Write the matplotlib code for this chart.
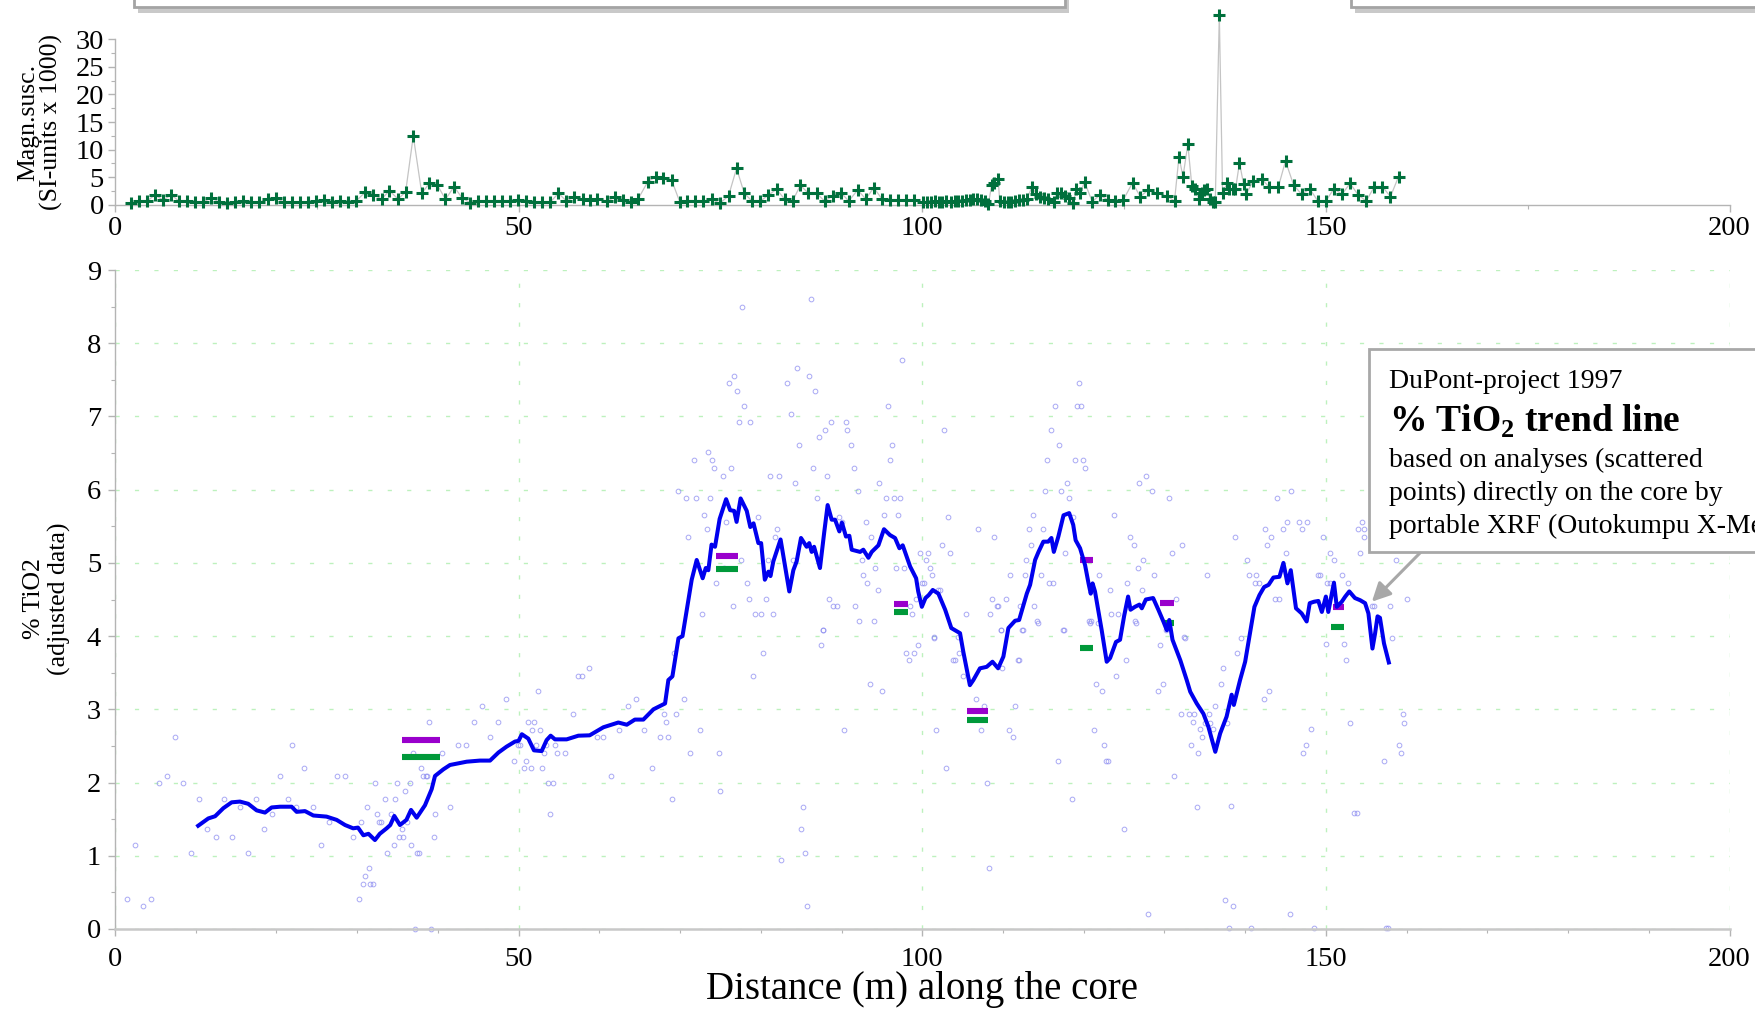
import matplotlib
matplotlib.use("Agg")
import matplotlib.pyplot as plt
from matplotlib.patches import Rectangle
from matplotlib.ticker import MultipleLocator
import matplotlib.patheffects as pe

plt.rcParams['font.family'] = ['Liberation Serif', 'DejaVu Serif']
plt.rcParams['mathtext.fontset'] = 'custom'
plt.rcParams['mathtext.rm'] = 'Liberation Serif'
plt.rcParams['mathtext.bf'] = 'Liberation Serif:bold'

# ---------------- data ----------------
# magnetic susceptibility (distance m, SI-units x 1000)
magsus = [(1.97,0.25),(2.92,0.67),(3.96,0.67),(4.96,1.76),(5.95,0.85),(6.95,1.76),(7.94,0.67),(8.94,0.67),
          (9.93,0.48),(10.93,0.48),(11.92,1.27),(12.92,0.48),(13.92,0.25),(14.9,0.48),(15.9,0.67),(16.9,0.48),
          (17.9,0.48),(18.9,1.03),(19.9,1.27),(20.9,0.48),(21.88,0.48),(22.88,0.48),(23.87,0.48),(24.87,0.67),
          (25.86,0.85),(26.86,0.48),(27.86,0.67),(28.85,0.48),(29.85,0.67),(31.03,2.3),(31.98,1.8),(33.02,1.03),
          (34.0,2.54),(35.06,1.03),(36.0,2.3),(36.95,12.47),(38.0,2.07),(38.95,3.88),(39.95,3.52),(40.94,0.97),
          (42.0,3.28),(42.97,1.27),(43.97,0.36),(44.97,0.67),(45.96,0.67),(46.96,0.67),(47.95,0.67),(48.95,0.67),
          (49.95,0.85),(50.94,0.67),(51.94,0.48),(52.94,0.48),(53.93,0.48),(54.93,2.07),(55.92,0.67),(56.92,1.46),
          (57.92,1.03),(58.9,0.85),(59.7,1.03),(61.0,0.67),(62.0,1.46),(62.95,0.85),(63.9,0.48),(64.8,1.03),
          (66.0,4.18),(67.0,5.08),(67.9,4.78),(68.95,4.48),(69.95,0.55),(70.9,0.67),(71.9,0.67),(72.9,0.67),
          (73.9,1.03),(74.9,0.25),(76.0,1.58),(77.0,6.6),(77.95,2.07),(78.9,0.67),(79.95,0.67),(80.95,1.76),
          (81.95,2.79),(82.94,1.03),(83.94,0.67),(84.9,3.52),(85.9,2.07),(86.9,2.07),(87.9,0.67),(88.9,1.58),
          (89.9,2.2),(90.9,0.67),(92.0,2.67),(93.0,1.03),(94.0,3.1),(95.0,1.03),(96.0,0.85),(97.0,0.85),
          (98.0,0.85),(99.0,0.85),(100.15,0.42),(100.6,0.55),(101.1,0.55),(101.6,0.67),(102.05,0.55),(102.5,0.55),
          (103.0,0.67),(103.5,0.55),(104.0,0.67),(104.4,0.67),(104.9,0.67),(105.4,0.85),(105.9,0.85),(106.3,0.97),
          (106.8,0.97),(107.3,0.85),(107.8,0.67),(108.2,0.12),(108.6,3.58),(108.9,4.0),(109.4,4.6),(109.6,0.67),
          (110.1,0.55),(110.6,0.55),(111.05,0.55),(111.5,0.67),(112.0,0.85),(112.5,0.85),(112.95,0.97),(113.6,3.28),
          (114.15,1.88),(114.6,1.33),(115.1,1.15),(115.55,0.97),(116.3,0.55),(116.7,2.2),(117.2,2.07),(117.7,1.64),
          (118.2,1.15),(118.65,0.25),(119.1,2.79),(119.6,2.07),(120.1,4.18),(121.05,0.55),(122.0,1.76),(123.0,0.85),
          (123.9,0.67),(124.9,0.85),(126.05,4.0),(127.0,1.46),(128.0,2.67),(129.1,2.07),(130.3,1.58),(131.25,0.67),
          (131.8,8.7),(132.3,5.08),(132.9,10.96),(133.4,3.34),(133.8,2.91),(134.3,0.97),(134.7,2.07),(134.9,2.67),
          (135.3,2.91),(135.6,0.97),(136.0,0.55),(136.3,0.55),(136.8,34.4),(137.2,2.2),(137.8,3.88),(138.0,2.79),
          (138.5,2.79),(138.8,2.79),(139.3,7.62),(139.8,3.76),(140.1,1.88),(141.0,4.3),(142.1,4.6),(143.0,3.16),
          (144.1,3.16),(145.0,7.93),(146.0,3.58),(147.0,1.88),(148.0,2.91),(149.0,0.67),(150.0,0.67),(151.0,2.91),
          (152.0,1.88),(153.0,3.88),(154.0,1.76),(155.0,0.67),(156.0,3.28),(157.0,3.28),(158.0,1.46),(159.0,5.08)]
magsus_x = [p[0] for p in magsus]
magsus_y = [p[1] for p in magsus]

# TiO2 trend line (distance m, % TiO2)
trend = [(10.3,1.41),(11.56,1.51),(12.4,1.54),(13.42,1.65),(14.45,1.73),(15.48,1.74),(16.5,1.71),(17.55,1.62),
         (18.58,1.59),(19.4,1.66),(20.44,1.67),(21.88,1.67),(22.5,1.60),(23.54,1.61),(24.57,1.55),(26.2,1.535),
         (27.46,1.49),(28.5,1.42),(29.5,1.375),(30.1,1.385),(30.77,1.28),(31.4,1.30),(32.2,1.215),(32.8,1.30),
         (33.65,1.375),(34.1,1.42),(34.6,1.544),(35.3,1.42),(36.1,1.49),(36.67,1.626),(37.37,1.52),(38.4,1.69),
         (39.23,1.91),(39.64,2.09),(40.67,2.18),(41.5,2.24),(43.57,2.285),(45.2,2.30),(46.46,2.30),(47.5,2.41),
         (48.5,2.49),(49.55,2.56),(50.0,2.57),(50.4,2.66),(51.2,2.60),(51.9,2.44),(52.85,2.43),(53.47,2.58),
         (53.97,2.64),(54.5,2.59),(55.95,2.59),(57.4,2.64),(58.8,2.645),(60.5,2.755),(62.35,2.82),(63.4,2.79),
         (64.4,2.86),(65.45,2.86),(66.7,3.0),(68.14,3.08),(68.55,3.40),(69.05,3.45),(69.8,3.97),(70.3,4.0),
         (71.44,4.77),(72.06,5.04),(72.8,4.79),(73.18,4.93),(73.5,4.9),(73.9,5.25),(74.33,5.22),(74.9,5.6),
         (75.7,5.87),(76.2,5.72),(76.7,5.71),(77.0,5.56),(77.5,5.88),(78.26,5.71),(78.7,5.49),(79.1,5.54),
         (79.7,5.27),(80.04,5.27),(80.5,4.77),(80.94,4.88),(81.2,4.82),(81.55,5.02),(82.45,5.32),(83.53,4.61),
         (84.03,4.9),(84.44,5.02),(84.98,5.34),(85.68,5.22),(86.0,5.27),(86.3,5.15),(86.6,5.22),(87.33,4.93),
         (87.87,5.43),(88.28,5.79),(88.78,5.59),(89.2,5.59),(89.73,5.43),(90.05,5.55),(90.55,5.36),(90.97,5.37),
         (91.26,5.18),(92.3,5.15),(92.7,5.18),(93.33,5.07),(93.74,5.15),(94.57,5.24),(95.26,5.46),(96.0,5.38),
         (96.63,5.34),(97.17,5.2),(97.58,5.24),(98.5,4.95),(99.24,4.79),(99.5,4.61),(99.95,4.4),(100.4,4.52),
         (100.8,4.56),(101.3,4.63),(102.0,4.58),(102.84,4.36),(103.6,4.11),(104.68,4.04),(105.08,3.79),(105.9,3.33),
         (106.33,3.40),(107.15,3.56),(107.98,3.58),(108.7,3.65),(109.4,3.56),(110.05,3.72),(110.67,4.11),(111.5,4.21),
         (112.0,4.22),(112.95,4.58),(113.36,4.70),(113.98,5.04),(114.4,5.15),(115.0,5.29),(115.6,5.29),(116.0,5.34),
         (116.3,5.15),(116.86,5.36),(117.5,5.65),(118.2,5.68),(118.7,5.52),(119.0,5.31),(119.55,5.2),(120.17,4.97),
         (120.6,4.72),(120.87,4.58),(121.1,4.72),(121.4,4.61),(122.23,4.08),(122.85,3.65),(123.27,3.70),(124.0,3.92),
         (124.5,3.95),(125.0,4.27),(125.5,4.54),(125.8,4.36),(126.35,4.40),(126.9,4.43),(127.2,4.38),(127.7,4.5),
         (128.6,4.52),(129.25,4.36),(129.87,4.2),(130.3,4.08),(130.6,4.22),(131.0,3.95),(131.97,3.67),(132.76,3.40),
         (133.2,3.24),(134.0,3.08),(134.83,2.94),(135.45,2.76),(136.3,2.42),(136.9,2.67),(137.7,2.90),(138.33,3.20),
         (138.6,3.06),(139.37,3.40),(140.0,3.65),(140.6,4.04),(141.15,4.40),(141.77,4.56),(142.35,4.67),(142.9,4.70),
         (143.5,4.80),(144.25,4.81),(144.74,5.0),(145.24,4.72),(145.65,4.90),(146.3,4.38),(147.0,4.31),(147.62,4.20),
         (148.0,4.45),(148.55,4.47),(149.07,4.48),(149.5,4.33),(150.0,4.54),(150.3,4.33),(151.0,4.73),(151.35,4.40),
         (151.97,4.47),(152.4,4.54),(152.9,4.61),(153.6,4.52),(154.25,4.49),(154.86,4.45),(155.27,4.31),(155.77,3.83),
         (156.1,4.04),(156.4,4.27),(156.7,4.25),(157.2,3.90),(157.8,3.64)]
trend_x = [p[0] for p in trend]
trend_y = [p[1] for p in trend]

# scattered XRF analyses (distance m, % TiO2)
analyses = [
    (1.49,0.41),(2.44,1.15),(3.44,0.31),(4.48,0.41),(5.48,1.99),(6.47,2.09),(7.47,2.62),(8.46,1.99),(9.46,1.04),
    (10.45,1.78),(11.45,1.36),(12.49,1.25),(13.49,1.78),(14.48,1.25),(15.48,1.67),(16.48,1.04),(17.47,1.78),
    (18.47,1.36),(19.46,1.57),(20.5,2.09),(21.45,1.78),(21.97,2.51),(22.45,1.67),(23.45,2.2),(24.5,1.67),
    (25.5,1.15),(26.5,1.46),(27.5,2.09),(28.5,2.09),(29.5,1.25),(30.23,0.41),(30.47,1.46),(30.7,0.62),(31.0,0.72),
    (31.17,1.67),(31.45,0.83),(31.65,0.62),(31.97,0.62),(32.2,1.99),(32.5,1.57),(32.7,1.46),(33.0,1.46),(33.5,1.78),
    (33.74,1.04),(34.2,1.57),(34.5,1.15),(34.7,1.78),(34.96,1.99),(35.2,1.25),(35.5,1.36),(35.7,1.25),(35.96,1.88),
    (36.2,1.46),(36.5,1.99),(36.7,1.15),(36.95,2.41),(37.2,0.0),(37.4,1.04),(37.7,1.04),(37.95,2.2),(38.2,2.09),
    (38.5,2.09),(38.7,2.09),(38.95,2.83),(39.2,0.0),(39.5,1.25),(39.7,1.57),(40.46,2.41),(41.45,1.67),(42.45,2.51),
    (43.45,2.51),(44.44,2.83),(45.44,3.04),(46.4,2.62),(47.4,2.83),(48.4,3.14),(49.4,2.30),(49.95,2.51),(50.2,2.51),
    (50.7,2.2),(50.95,2.3),(51.2,2.83),(51.5,2.2),(51.7,2.72),(51.95,2.83),(52.2,2.51),(52.45,3.25),(52.7,2.72),
    (52.94,2.2),(53.2,2.41),(53.45,2.51),(53.7,1.99),(53.9,1.57),(54.2,1.99),(54.45,2.51),(54.7,2.41),(55.7,2.41),
    (56.7,2.93),(57.4,3.46),(57.8,3.46),(58.7,3.56),(59.7,2.62),
    (60.47,2.62),(61.5,2.09),(62.45,2.72),(63.5,3.04),(64.5,3.14),(65.5,2.72),(66.5,2.2),(67.5,2.62),(68.0,2.93),
    (68.3,2.83),(68.5,2.62),(69.0,1.78),(69.2,3.77),(69.5,2.93),(70.5,3.14),(71.2,2.41),(72.5,2.72),(74.8,2.41),
    (75.0,1.88),(79.0,3.46),(80.3,3.77),(82.5,0.94),(85.0,1.36),(85.2,1.67),(85.5,1.04),(85.7,0.31),(87.5,3.88),
    (87.7,4.08),(90.3,2.72),(93.5,3.35),(95.0,3.25),(98.0,3.77),(98.3,3.67),(99.0,3.77),(99.5,3.88),(101.5,3.98),
    (101.7,2.72),(103.0,2.2),(103.8,3.67),(104.05,3.67),(104.5,3.77),(105.0,3.46),(106.7,3.14),(107.3,2.72),
    (107.6,3.04),(108.0,1.99),(108.3,0.83),(109.8,4.08),(109.9,3.56),(110.8,2.72),(111.3,2.62),(111.5,3.04),
    (111.8,3.67),(112.0,3.67),(112.5,4.08),(114.3,4.18),(116.8,2.3),(117.5,4.08),(118.5,1.78),(120.8,4.18),
    (121.3,2.72),(121.5,3.35),(121.8,4.18),(122.3,3.25),(122.5,2.51),(122.8,2.3),(123.0,2.3),(124.0,3.46),
    (125.0,1.36),(125.2,3.67),(126.5,4.18),(128.0,0.21),(129.2,3.25),(129.5,3.88),(129.8,3.35),(131.2,2.09),
    (132.0,2.93),(132.5,3.98),(133.0,2.93),(133.3,2.51),(133.5,2.83),(133.7,2.93),(134.0,1.67),(134.2,2.41),
    (134.45,2.73),(134.7,2.62),(134.99,2.82),(135.5,2.93),(135.7,2.82),(135.97,2.73),(136.26,3.04),(137.0,3.35),
    (137.25,3.56),(137.5,0.40),(137.8,2.82),(138.0,0.01),(138.2,1.68),(138.5,0.31),(139.0,3.77),(139.5,3.98),
    (140.75,0.01),(142.3,3.14),(143.0,3.25),(145.5,0.21),(147.2,2.41),(147.5,2.51),(148.2,2.73),(148.5,0.01),
    (150.0,3.89),(152.2,3.89),(152.5,3.67),(153.0,2.82),(153.5,1.59),(153.8,1.59),(157.2,2.30),(157.5,0.01),
    (157.7,0.01),(158.2,3.98),(159.0,2.51),(159.3,2.41),(159.5,2.93),(159.7,2.82),
    (69.7,5.98),(70.7,5.88),(71.0,5.35),(71.7,6.41),(71.95,5.88),(72.7,4.30),(73.0,5.66),(73.3,5.46),(73.5,6.51),
    (73.75,5.88),(74.0,6.41),(74.25,6.29),(74.5,4.72),(75.26,6.19),(75.5,4.93),(75.73,5.56),(76.0,7.45),(76.25,6.29),
    (76.5,4.41),(76.73,7.55),(77.0,7.35),(77.25,6.93),(77.5,5.04),(77.7,8.50),(77.96,7.14),(78.25,4.72),(78.5,4.51),
    (78.7,6.93),(79.24,4.30),(79.7,5.62),(80.0,4.30),(80.7,4.51),(80.95,5.04),(81.2,6.19),(81.5,4.30),(81.7,5.35),
    (82.0,5.46),(82.2,6.19),(83.22,7.45),(83.7,7.04),(84.0,5.04),(84.2,6.09),(84.45,7.66),(84.7,6.61),(86.0,7.55),
    (86.2,8.61),(86.5,6.29),(86.75,7.35),(87.0,5.88),(87.2,6.72),(87.75,4.09),(88.0,6.82),(88.2,6.19),(88.5,4.51),
    (88.7,6.93),(89.0,4.41),(89.5,4.41),(89.7,5.62),(90.0,5.56),(90.5,6.93),(90.7,6.82),(91.2,6.61),(91.5,6.29),
    (91.7,4.41),(92.0,5.98),(92.2,4.20),(92.5,5.04),(92.7,4.83),(93.0,5.56),(93.2,4.72),(93.7,5.35),(94.0,4.20),
    (94.2,4.93),(94.5,4.63),(94.7,6.09),(95.2,5.66),(95.5,5.88),(95.7,7.14),(96.0,6.41),(96.2,6.61),(96.5,5.88),
    (96.7,4.93),(97.0,5.66),(97.2,5.88),(97.45,7.77),(97.7,4.93),(98.45,4.41),(98.7,4.30),(99.2,4.51),(99.7,5.14),
    (99.95,4.72),(100.2,4.72),(100.45,5.04),(100.7,5.14),(100.96,4.93),(101.2,4.83),(101.45,3.99),(101.95,4.63),
    (102.2,4.63),(102.4,5.25),(102.7,6.82),(103.2,5.62),(103.45,5.14),(104.4,3.99),(105.4,4.30),(106.95,5.46),
    (108.4,4.30),(108.7,4.51),(108.9,5.35),(109.2,4.41),(109.4,4.41),(109.7,4.09),(110.4,4.51),(110.9,4.83),
    (112.15,4.41),(112.4,4.09),(112.7,4.83),(112.9,5.04),(113.2,5.46),(113.45,5.25),(113.7,5.66),(113.9,4.41),
    (114.2,4.20),(114.7,4.83),(115.0,5.46),(115.2,5.98),(115.5,6.41),(115.7,4.72),(116.0,6.82),(116.2,4.72),
    (116.44,7.14),(116.95,6.61),(117.2,5.98),(117.4,4.09),(117.7,5.14),(117.95,6.09),(118.2,5.88),(118.7,5.62),
    (118.95,6.41),(119.2,7.14),(119.45,7.45),(119.7,7.14),(119.95,6.41),(120.2,6.29),(120.7,4.20),(120.9,4.20),
    (121.9,4.83),(123.2,4.63),(123.4,4.30),(123.7,5.66),(124.2,4.30),(125.4,4.72),(125.7,5.35),(126.2,5.25),
    (126.4,4.20),(126.67,4.93),(126.9,6.09),(127.2,4.63),(127.4,5.04),(127.7,6.19),(128.4,5.98),(128.66,4.83),
    (130.2,4.09),(130.6,5.88),(130.9,5.14),(131.4,4.51),(132.2,5.25),(132.4,3.99),
    (135.25,4.83),(138.7,5.35),(140.2,5.04),(140.5,4.83),(141.4,4.83),(141.2,4.72),(141.7,4.72),(142.5,5.46),
    (142.7,5.25),(143.2,5.35),(144.0,5.88),(143.7,4.51),(144.2,4.51),(144.7,5.46),(145.0,5.14),(145.2,5.56),
    (145.7,5.98),(146.7,5.56),(147.0,5.46),(147.7,5.56),(149.0,4.83),(149.3,4.83),(149.7,5.35),(150.2,4.72),
    (150.5,4.72),(150.5,5.14),(151.0,5.04),(152.0,4.83),(152.7,4.72),(154.2,5.14),(154.5,5.56),(154.0,5.46),
    (154.7,5.46),(154.7,5.35),(155.7,4.41),(155.9,4.41),(158.0,4.41),(158.7,5.04),(160.0,4.51)]
analyses_x = [p[0] for p in analyses]
analyses_y = [p[1] for p in analyses]

# short reference bars: (start m, end m, % TiO2)
purple_bars = [(35.5,40.2,2.58),(74.5,77.2,5.09),(96.5,98.2,4.435),(105.6,108.2,2.98),
               (119.55,121.2,5.045),(129.5,131.2,4.45),(150.9,152.2,4.40)]
green_bars = [(35.5,40.2,2.35),(74.5,77.2,4.91),(96.5,98.2,4.33),(105.6,108.2,2.86),
              (119.55,121.2,3.84),(129.9,131.2,4.18),(150.6,152.2,4.13)]

x_ticks = [0, 50, 100, 150, 200]

# ---------------- figure ----------------
W, H = 1755, 1010
fig = plt.figure(figsize=(W/100, H/100), dpi=100)
fig.patch.set_facecolor('white')

axl, axr = 115, 1729.5
ax_top = fig.add_axes([axl/W, 1-204.7/H, (axr-axl)/W, (204.7-39.3)/H])
ax = fig.add_axes([axl/W, 1-929/H, (axr-axl)/W, (929-270)/H])

spine_col = '#b4b4b4'
tick_fs = 20.5

# top chart
ax_top.plot(magsus_x, magsus_y, color='#c4c4c4', lw=0.9, zorder=2, clip_on=False)
ax_top.plot(magsus_x, magsus_y, ls='none', marker='+', ms=8, mew=2.2, color='#00703c', zorder=3, clip_on=False)
ax_top.set_xlim(0, 200)
ax_top.set_ylim(0, 30)
ax_top.set_xticks(x_ticks)
ax_top.xaxis.set_minor_locator(MultipleLocator(25))
ax_top.set_yticks(range(0, 31, 5))
ax_top.yaxis.set_minor_locator(MultipleLocator(2.5))
for s in ['top', 'right']:
    ax_top.spines[s].set_visible(False)
for s in ['left', 'bottom']:
    ax_top.spines[s].set_color(spine_col)
    ax_top.spines[s].set_linewidth(1.0)
ax_top.tick_params(axis='x', which='major', length=5, width=1, color=spine_col, labelsize=tick_fs, pad=3)
ax_top.tick_params(axis='y', which='major', length=5, width=1, color=spine_col, labelsize=tick_fs, pad=3)
ax_top.tick_params(which='minor', length=3, width=0.8, color=spine_col)

# bottom chart
ax.plot(analyses_x, analyses_y, ls='none', marker='o', ms=3.4, mfc='none', mec='#8c8cf0',
        mew=0.7, alpha=0.75, zorder=2, clip_on=False)
for x0, x1, y in purple_bars:
    ax.hlines(y, x0, x1, colors='#9900cc', lw=4.4, zorder=3)
for x0, x1, y in green_bars:
    ax.hlines(y, x0, x1, colors='#00993a', lw=4.4, zorder=3)
ax.plot(trend_x, trend_y, color='#0000ee', lw=2.9, zorder=4, solid_joinstyle='round')

ax.set_xlim(0, 200)
ax.set_ylim(0, 9)
ax.set_xticks(x_ticks)
ax.xaxis.set_minor_locator(MultipleLocator(10))
ax.set_yticks(range(0, 10))
ax.yaxis.set_minor_locator(MultipleLocator(0.5))
ax.grid(True, which='major', color='#bdf1bd', linestyle=(0, (3, 11)), lw=1.0, zorder=0)
ax.set_axisbelow(True)
for s in ['top', 'right']:
    ax.spines[s].set_visible(False)
ax.spines['left'].set_color(spine_col)
ax.spines['left'].set_linewidth(1.0)
ax.spines['bottom'].set_color('#c8c8c8')
ax.spines['bottom'].set_linewidth(1.8)
ax.tick_params(axis='x', which='major', length=5, width=1, color=spine_col, labelsize=tick_fs, pad=8)
ax.tick_params(axis='y', which='major', length=5, width=1, color=spine_col, labelsize=tick_fs, pad=5)
ax.tick_params(which='minor', length=3, width=0.8, color=spine_col)

# axis labels
fig.text(40/W, 1-122/H, 'Magn.susc.\n(SI-units x 1000)', rotation=90, ha='center', va='center',
         multialignment='center', fontsize=18.5, linespacing=1.05)
fig.text(47/W, 1-599/H, '% TiO2\n(adjusted data)', rotation=90, ha='center', va='center',
         multialignment='center', fontsize=18.5, linespacing=1.15)
fig.text(922/W, 1-990/H, 'Distance (m) along the core', ha='center', va='center', fontsize=28)

# top boxes (cut off at the top edge)
shadow = [pe.SimplePatchShadow(offset=(3, -4), alpha=0.3), pe.Normal()]
for bx0, bx1 in [(134, 1065), (1351, 1900)]:
    r = Rectangle((bx0/W, 1-7/H), (bx1-bx0)/W, 0.2, transform=fig.transFigure, fc='white',
                  ec='#a4a4a4', lw=2.0, zorder=10, clip_on=False, path_effects=shadow)
    fig.add_artist(r)

# annotation box
box = Rectangle((1369/W, 1-552/H), 0.4, (552-349)/H, transform=fig.transFigure, fc='white',
                ec='#a8a8a8', lw=2.0, zorder=10, clip_on=False)
fig.add_artist(box)
tx = 1389/W
fig.text(tx, 1-388/H, 'DuPont-project 1997', fontsize=20, va='baseline', zorder=11)
fig.text(tx, 1-432/H, r'% TiO$_\mathbf{2}$ trend line', fontsize=27, fontweight='bold', va='baseline', zorder=11)
fig.text(tx, 1-467/H, 'based on analyses (scattered', fontsize=20, va='baseline', zorder=11)
fig.text(tx, 1-500/H, 'points) directly on the core by', fontsize=20, va='baseline', zorder=11)
fig.text(tx, 1-533/H, 'portable XRF (Outokumpu X-Met)', fontsize=20, va='baseline', zorder=11)

ax.annotate('', xy=(155.7, 4.47), xytext=(161.7, 5.14),
            arrowprops=dict(arrowstyle='-|>', color='#a8a8a8', lw=2.2, mutation_scale=28,
                            shrinkA=0, shrinkB=0), zorder=9, annotation_clip=False)

fig.savefig('out.png', dpi=100, facecolor='white')
